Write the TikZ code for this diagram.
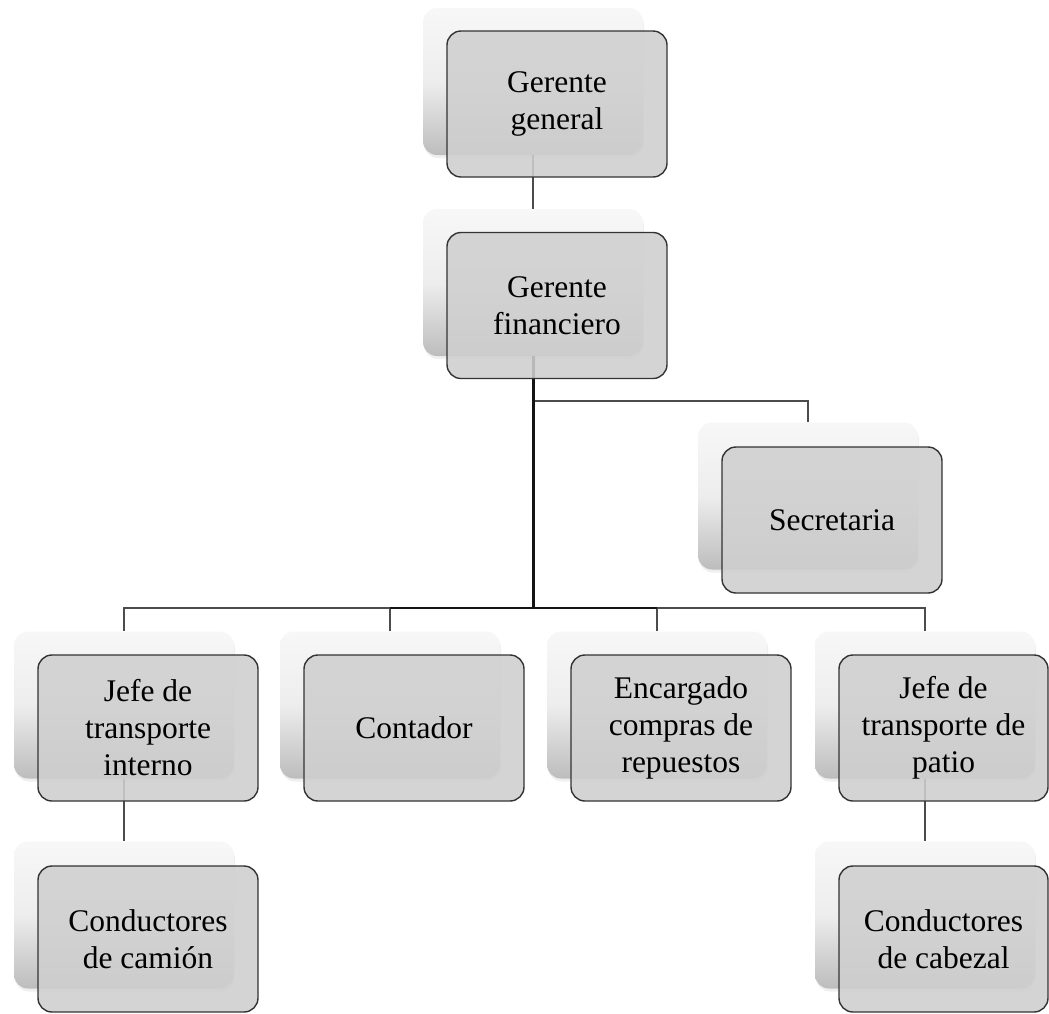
\documentclass[tikz,border=0pt]{standalone}
\usepackage{fontspec}
\setmainfont{Liberation Serif}
\usetikzlibrary{shadows}
\begin{document}
\begin{tikzpicture}[x=1pt,y=-1pt,
  backcard/.style={rectangle, rounded corners=14pt, minimum width=220pt, minimum height=147pt, inner sep=0pt, draw=none,
    top color=white!97!black, bottom color=white!74!black, middle color=white!93!black,
    drop shadow={opacity=0.12, shadow xshift=1pt, shadow yshift=-3pt}},
  frontcard/.style={rectangle, rounded corners=14pt, minimum width=220pt, minimum height=146pt, inner sep=0pt,
    draw=black!80, line width=1.4pt, fill=white!81!black, fill opacity=0.88, text opacity=1,
    align=center, font=\fontsize{31.5}{37}\selectfont},
  link/.style={draw=black!70, line width=1.8pt},
  trunk/.style={draw=black!92, line width=3pt}]
\useasboundingbox[fill=white] (0,0) rectangle (1049,1013);

% back cards
\node[backcard] (gg-b) at (533,81.5) {};
\node[backcard] (gf-b) at (533,282.5) {};
\node[backcard] (sec-b) at (808,496) {};
\node[backcard] (jti-b) at (124,705) {};
\node[backcard] (con-b) at (390,705) {};
\node[backcard] (enc-b) at (657,705) {};
\node[backcard] (jtp-b) at (925,705) {};
\node[backcard] (cc-b) at (124,915) {};
\node[backcard] (cz-b) at (925,915) {};

% connectors
\coordinate (secbar) at (533,401);
\coordinate (bar) at (533,608);
\draw[link] (gg-b.south) -- (gf-b.north);
\draw[link] (secbar) -| (sec-b.north);
\draw[link] (bar) -| (jti-b.north);
\draw[link] (bar) -| (con-b.north);
\draw[link] (bar) -| (enc-b.north);
\draw[link] (bar) -| (jtp-b.north);
\draw[trunk, line width=2.4pt] (con-b.north |- bar) -- (enc-b.north |- bar);
\draw[trunk] (gf-b.south) -- (bar);
\draw[link] (jti-b.south) -- (cc-b.north);
\draw[link] (jtp-b.south) -- (cz-b.north);

% front cards
\node[frontcard] (gg) at (557,104) {Gerente\\general};
\node[frontcard] (gf) at (557,305.5) {Gerente\\financiero};
\node[frontcard] (sec) at (832,520) {Secretaria};
\node[frontcard] (jti) at (148,728) {Jefe de\\transporte\\interno};
\node[frontcard] (con) at (414,728) {Contador};
\node[frontcard] (enc) at (681,728) {Encargado\\compras de\\repuestos};
\node[frontcard, minimum width=209pt] (jtp) at (943.5,728) {Jefe de\\transporte de\\patio};
\node[frontcard] (cc) at (148,939) {Conductores\\de camión};
\node[frontcard, minimum width=209pt] (cz) at (943.5,939) {Conductores\\de cabezal};
\end{tikzpicture}
\end{document}
